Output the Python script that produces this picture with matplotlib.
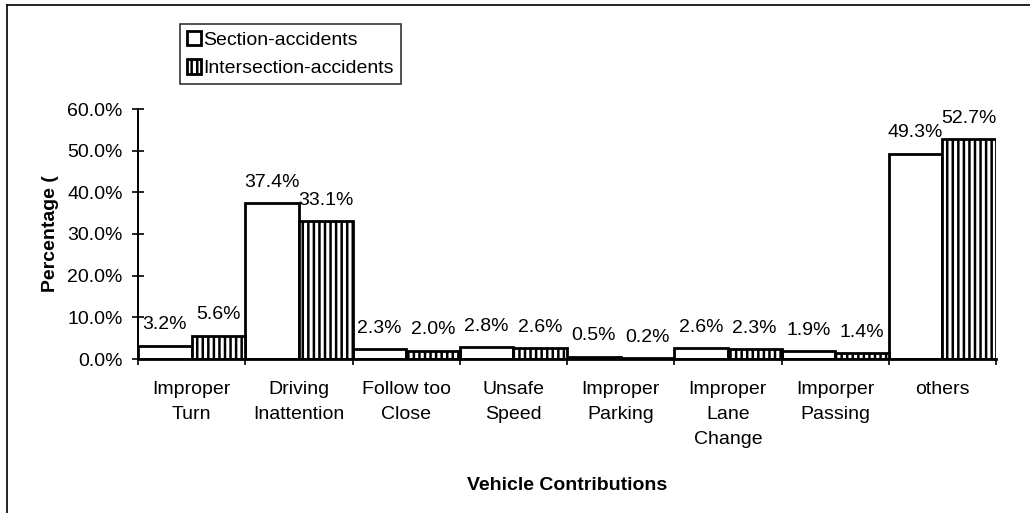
import matplotlib
matplotlib.use("Agg")
import matplotlib.pyplot as plt
from matplotlib.lines import Line2D
import numpy as np

categories = ["Improper\nTurn", "Driving\nInattention", "Follow too\nClose", "Unsafe\nSpeed",
              "Improper\nParking", "Improper\nLane\nChange", "Imporper\nPassing", "others"]
section = [3.2, 37.4, 2.3, 2.8, 0.5, 2.6, 1.9, 49.3]
intersection = [5.6, 33.1, 2.0, 2.6, 0.2, 2.3, 1.4, 52.7]
yticks = [0, 10, 20, 30, 40, 50, 60]

plt.rcParams['font.family'] = ['Liberation Sans', 'DejaVu Sans']
plt.rcParams['hatch.linewidth'] = 1.8

W, H = 1030, 513
fig = plt.figure(figsize=(W/100, H/100), dpi=100)
ax = fig.add_axes([138/W, 1 - 359/H, (996-138)/W, (359-109)/H])

x = np.arange(len(categories))
w = 0.5
ax.bar(x - w/2, section, w, color="white", edgecolor="black", linewidth=2.0,
       label="Section-accidents")
ax.bar(x + w/2, intersection, w, color="white", edgecolor="black", linewidth=2.0,
       hatch="|||", label="Intersection-accidents")

fs = 14
for xs, vals in [(x - w/2, section), (x + w/2, intersection)]:
    for xi, v in zip(xs, vals):
        ax.annotate(f"{v:.1f}%", (xi, v), xytext=(0, 9), textcoords="offset points",
                    ha="center", va="bottom", fontsize=fs)

ax.set_xlim(-0.5, len(categories) - 0.5)
ax.set_ylim(0, 60)
ax.set_yticks(yticks)
ax.set_yticklabels([f"{t:.1f}%" for t in yticks], fontsize=fs)
ax.set_xticks(x)
ax.set_xticklabels(categories, fontsize=fs, linespacing=1.6)
ax.tick_params(axis="x", length=0, pad=16)
ax.set_xticks(np.arange(-0.5, len(categories), 1), minor=True)
ax.tick_params(axis="x", which="minor", length=4, width=1.2, direction="out")
ax.tick_params(axis="y", direction="inout", length=8, width=1.2, pad=7)

for s in ["top", "right"]:
    ax.spines[s].set_visible(False)
ax.spines["left"].set_linewidth(1.4)
ax.spines["bottom"].set_linewidth(2.0)

ax.set_ylabel("Percentage (", fontsize=fs, fontweight="bold", labelpad=6)
ax.set_xlabel("Vehicle Contributions", fontsize=fs, fontweight="bold")
ax.xaxis.set_label_coords(0.5, -0.47)

leg = ax.legend(loc="upper left", bbox_to_anchor=(180/W, 1 - 24/H),
                bbox_transform=fig.transFigure, frameon=True, fancybox=False,
                edgecolor="black", fontsize=fs, handlelength=0.75, handleheight=0.75,
                handletextpad=0.1, borderpad=0.35, borderaxespad=0, labelspacing=0.55)
leg.get_frame().set_linewidth(1.2)

# outer frame (left and top edges visible in the scan)
fig.add_artist(Line2D([7/W, 7/W], [0, 1 - 5/H], transform=fig.transFigure, color="black", lw=1.2))
fig.add_artist(Line2D([7/W, 1], [1 - 5/H, 1 - 5/H], transform=fig.transFigure, color="black", lw=1.2))

fig.savefig("out.png", dpi=100)
